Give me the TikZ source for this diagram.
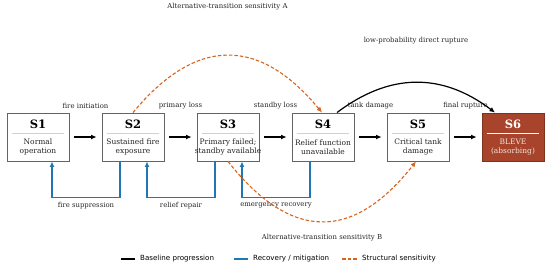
\documentclass[tikz,border=0pt]{standalone}
\usepackage{fontspec}
\setmainfont{DejaVu Serif}
\newfontfamily\legendfont{DejaVu Sans}
\usepackage{tikz}
\usetikzlibrary{arrows.meta,positioning,calc}
\definecolor{recblue}{RGB}{31,119,180}
\definecolor{sensorange}{RGB}{214,100,30}
\definecolor{bleve}{RGB}{168,68,43}
\definecolor{boxgray}{RGB}{100,100,100}

\begin{document}
\begin{tikzpicture}[
        x=1pt, y=-1pt,
        >={Latex[length=5.5pt,width=5pt]},
        state/.style={rectangle,draw=boxgray,line width=0.9pt,fill=white,minimum width=62pt,minimum height=48pt},
        absorb/.style={state,fill=bleve,draw=bleve!75!black},
        title/.style={font=\bfseries\fontsize{11.5}{13}\selectfont},
        body/.style={font=\fontsize{7.5}{8.4}\selectfont,align=center,text=black!85},
        rule/.style={black!18,line width=0.5pt},
        lbl/.style={font=\fontsize{6.9}{8}\selectfont,text=black!85},
        base/.style={->,line width=1.2pt},
        recovery/.style={->,recblue,line width=1.1pt},
        sens/.style={->,sensorange,line width=1.1pt,dash pattern=on 3.5pt off 2pt},
        legtext/.style={font=\legendfont\fontsize{7.1}{8}\selectfont,anchor=west,inner sep=0pt}
      ]
        \useasboundingbox (0,0) rectangle (550,269);

        % states
        \node[state]  (S1) at (38,137)  {};
        \node[state]  (S2) at (133,137) {};
        \node[state]  (S3) at (228,137) {};
        \node[state]  (S4) at (323,137) {};
        \node[state]  (S5) at (418,137) {};
        \node[absorb] (S6) at (513,137) {};

        \node[title] (S1t) at (38,124.5)  {S1};
        \node[title] (S2t) at (133,124.5) {S2};
        \node[title] (S3t) at (228,124.5) {S3};
        \node[title] (S4t) at (323,124.5) {S4};
        \node[title] (S5t) at (418,124.5) {S5};
        \node[title,text=white] (S6t) at (513,124.5) {S6};

        \draw[rule] ([shift={(5,-4)}]S1.west) -- ([shift={(-5,-4)}]S1.east);
        \draw[rule] ([shift={(5,-4)}]S2.west) -- ([shift={(-5,-4)}]S2.east);
        \draw[rule] ([shift={(5,-4)}]S3.west) -- ([shift={(-5,-4)}]S3.east);
        \draw[rule] ([shift={(5,-4)}]S4.west) -- ([shift={(-5,-4)}]S4.east);
        \draw[rule] ([shift={(5,-4)}]S5.west) -- ([shift={(-5,-4)}]S5.east);
        \draw[white,line width=1pt] ([shift={(5,-4)}]S6.west) -- ([shift={(-5,-4)}]S6.east);

        \node[body] (S1b) at (38,147)  {Normal\\operation};
        \node[body] (S2b) at (133,147) {Sustained fire\\exposure};
        \node[body] (S3b) at (228,147) {Primary failed;\\standby available};
        \node[body] (S4b) at (323,147) {Relief function\\unavailable};
        \node[body] (S5b) at (418,147) {Critical tank\\damage};
        \node[body,text=bleve!15!white] (S6b) at (513,147) {BLEVE\\(absorbing)};

        % baseline progression
        \draw[base,shorten <=5pt,shorten >=5pt] (S1) -- node[lbl,yshift=31pt] {fire initiation} (S2);
        \draw[base,shorten <=5pt,shorten >=5pt] (S2) -- node[lbl,yshift=31pt] {primary loss} (S3);
        \draw[base,shorten <=5pt,shorten >=5pt] (S3) -- node[lbl,yshift=31pt] {standby loss} (S4);
        \draw[base,shorten <=5pt,shorten >=5pt] (S4) -- node[lbl,yshift=31pt] {tank damage} (S5);
        \draw[base,shorten <=5pt,shorten >=5pt] (S5) -- node[lbl,yshift=31pt] {final rupture} (S6);
        \draw[base] ([xshift=14pt]S4.north) .. controls +(53,-40) and +(-53,-40) ..
              node[lbl,pos=0.5,yshift=42pt] {low-probability direct rupture} ([xshift=-18pt]S6.north);

        % recovery / mitigation
        \draw[recovery] ([xshift=-13pt]S2.south) -- ++(0,36) -| node[pos=0.25,lbl,below=1pt] {fire suppression} ([xshift=14pt]S1.south);
        \draw[recovery] ([xshift=-13pt]S3.south) -- ++(0,36) -| node[pos=0.25,lbl,below=1pt] {relief repair} ([xshift=14pt]S2.south);
        \draw[recovery] ([xshift=-13pt]S4.south) -- ++(0,36) -| node[pos=0.25,lbl,below=1pt] {emergency recovery} ([xshift=14pt]S3.south);

        % structural sensitivity
        \draw[sens] (S2.north) .. controls +(63,-76) and +(-63,-76) ..
              node[lbl,pos=0.5,yshift=49pt] {Alternative-transition sensitivity A} ([xshift=-1pt]S4.north);
        \draw[sens] (S3.south) .. controls +(63,80) and +(-63,80) ..
              node[lbl,pos=0.5,yshift=-16pt] {Alternative-transition sensitivity B} ([xshift=-2pt]S5.south);

        % legend
        \node[legtext] (legbase) at (140,259) {Baseline progression};
        \node[legtext] (legrec)  at (253,259) {Recovery / mitigation};
        \node[legtext] (legsens) at (362,259) {Structural sensitivity};
        \draw[line width=1.2pt] ([xshift=-19pt]legbase.west) -- ([xshift=-5pt]legbase.west);
        \draw[recblue,line width=1.2pt] ([xshift=-19pt]legrec.west) -- ([xshift=-5pt]legrec.west);
        \draw[sensorange,line width=1.2pt,dash pattern=on 3.5pt off 2pt] ([xshift=-20pt]legsens.west) -- ([xshift=-5pt]legsens.west);
      \end{tikzpicture}
\end{document}
